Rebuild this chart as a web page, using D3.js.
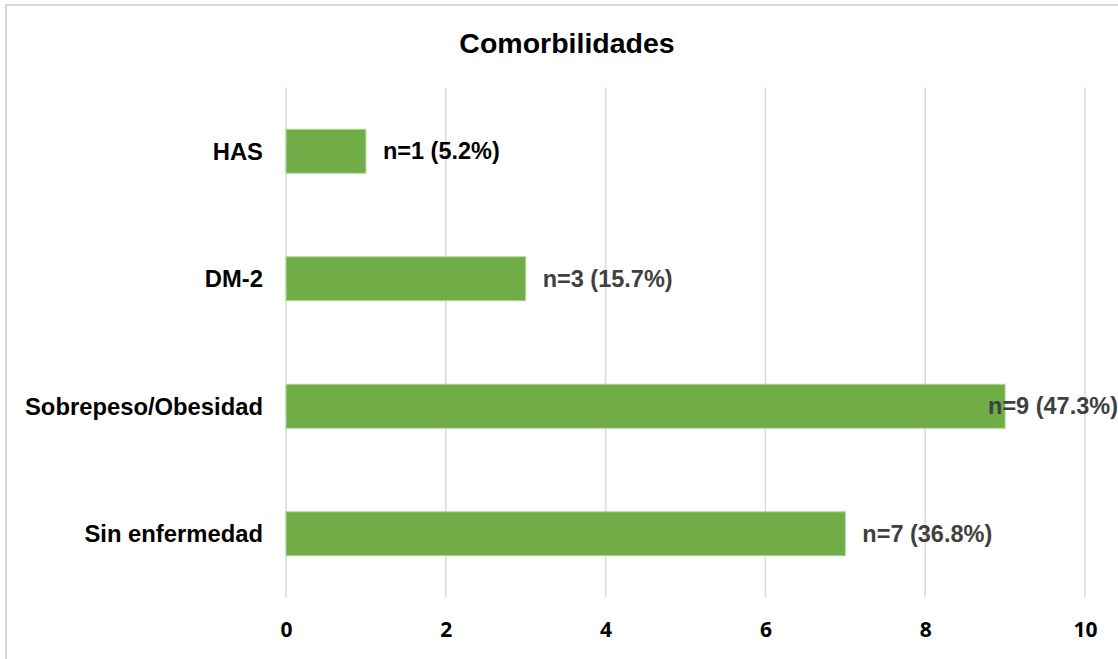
<!DOCTYPE html>
<html>
<head>
<meta charset="utf-8">
<script src="https://cdn.jsdelivr.net/npm/d3@7"></script>
<style>
  html, body { margin: 0; padding: 0; background: #fff; overflow: hidden; }
  svg { display: block; }
</style>
</head>
<body>
<svg id="chart" width="1118" height="659"></svg>
<script>
// Comorbidity counts, top to bottom
const categories = ["HAS", "DM-2", "Sobrepeso/Obesidad", "Sin enfermedad"];
const counts = [1, 3, 9, 7];
const valueLabels = ["n=1 (5.2%)", "n=3 (15.7%)", "n=9 (47.3%)", "n=7 (36.8%)"];
const tickValues = [0, 2, 4, 6, 8, 10];
const title = "Comorbilidades";

const W = 1118, H = 659;
const svg = d3.select("#chart");

// Outer chart frame
svg.append("rect")
  .attr("x", 6).attr("y", 5)
  .attr("width", W + 20).attr("height", H + 20)
  .attr("fill", "#fff")
  .attr("stroke", "#d9d9d9").attr("stroke-width", 2);

const plot = { left: 286, right: 1085, top: 87.5, bottom: 597.5 };

const x = d3.scaleLinear().domain([0, 10]).range([plot.left, plot.right]);
const y = d3.scaleBand().domain(categories)
  .range([plot.top, plot.bottom])
  .paddingInner(0.655).paddingOuter(0.3275);

// Title
svg.append("text")
  .attr("x", 567).attr("y", 53)
  .attr("text-anchor", "middle")
  .attr("font-family", "Liberation Sans, Arial, sans-serif")
  .attr("font-weight", "bold").attr("font-size", 28.5)
  .attr("fill", "#000")
  .text(title);

// Vertical gridlines
svg.append("g").selectAll("line").data(tickValues).join("line")
  .attr("x1", d => x(d)).attr("x2", d => x(d))
  .attr("y1", plot.top).attr("y2", plot.bottom)
  .attr("stroke", "#d9d9d9").attr("stroke-width", 1.5);

// X axis tick labels
const xAxis = d3.axisBottom(x).tickValues(tickValues).tickSize(0).tickPadding(0);
const gx = svg.append("g").attr("transform", `translate(0, 637)`).call(xAxis);
gx.select(".domain").remove();
gx.selectAll("text")
  .attr("y", 0).attr("dy", 0)
  .attr("font-family", "Open Sans, sans-serif")
  .attr("font-weight", "bold").attr("font-size", 21)
  .attr("fill", "#000");

// Category labels
const yAxis = d3.axisLeft(y).tickSize(0).tickPadding(0);
const gy = svg.append("g").attr("transform", `translate(263, 0)`).call(yAxis);
gy.select(".domain").remove();
gy.selectAll("text")
  .attr("x", 0).attr("dy", "0.35em")
  .attr("font-family", "Liberation Sans, Arial, sans-serif")
  .attr("font-weight", "bold").attr("font-size", 23.8)
  .attr("fill", "#000");

// Bars
svg.append("g").selectAll("rect").data(counts).join("rect")
  .attr("x", x(0))
  .attr("y", (d, i) => y(categories[i]))
  .attr("width", d => x(d) - x(0))
  .attr("height", y.bandwidth())
  .attr("fill", "#70ad47")
  .attr("stroke", "#b5d79d").attr("stroke-width", 1);

// Value labels, pulled back inside the frame when they would overflow
const labels = svg.append("g").selectAll("text").data(counts).join("text")
  .attr("y", (d, i) => y(categories[i]) + y.bandwidth() / 2)
  .attr("dy", "0.35em")
  .attr("font-family", "Liberation Sans, Arial, sans-serif")
  .attr("font-weight", "bold").attr("font-size", 23.5)
  .attr("fill", (d, i) => i === 0 ? "#000" : "#404040")
  .text((d, i) => valueLabels[i]);

labels.each(function(d) {
  const w = this.getComputedTextLength();
  let px = x(d) + 17;
  if (px + w > W) px = W - w;
  d3.select(this).attr("x", px);
});
</script>
</body>
</html>
